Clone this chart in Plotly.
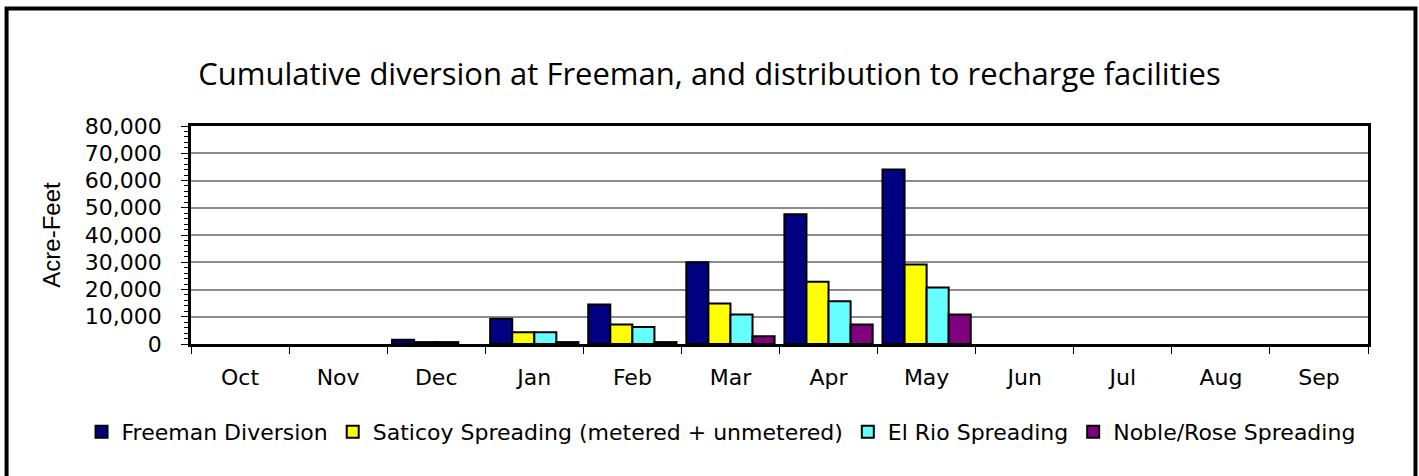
import plotly.graph_objects as go

# Water-year months
months = ["Oct", "Nov", "Dec", "Jan", "Feb", "Mar", "Apr", "May", "Jun", "Jul", "Aug", "Sep"]

# Cumulative volumes (acre-feet); months with nothing to show are None
freeman_diversion = [None, None, 1600, 9300, 14500, 30000, 47600, 64000, None, None, None, None]
saticoy_spreading = [None, None, 700, 4300, 7200, 14900, 22800, 29200, None, None, None, None]
el_rio_spreading = [None, None, 700, 4300, 6200, 10800, 15700, 20700, None, None, None, None]
noble_rose_spreading = [None, None, None, 700, 700, 2800, 7200, 10800, None, None, None, None]

series_names = [
    "Freeman Diversion",
    "Saticoy Spreading (metered + unmetered)",
    "El Rio Spreading",
    "Noble/Rose Spreading",
]
series_values = [freeman_diversion, saticoy_spreading, el_rio_spreading, noble_rose_spreading]
series_colors = ["#000080", "#FFFF00", "#66FFFF", "#800080"]

y_tick_values = [0, 10000, 20000, 30000, 40000, 50000, 60000, 70000, 80000]
y_tick_labels = ["0", "10,000", "20,000", "30,000", "40,000", "50,000", "60,000", "70,000", "80,000"]

W, H = 1419, 476
ML, MR, MT, MB = 190.5, 51, 126, 132
PW, PH = W - ML - MR, H - MT - MB

fig = go.Figure()
for name, vals, color in zip(series_names, series_values, series_colors):
    fig.add_trace(go.Bar(
        x=months, y=vals, name=name,
        marker=dict(color=color, line=dict(color="black", width=2)),
    ))

axis_font = dict(family="DejaVu Sans, Arial, sans-serif", size=22, color="black")


def px_to_paper_x(px):
    return (px - ML) / PW


def px_to_paper_y(py):
    return (H - MB - py) / PH


fig.update_layout(
    width=W, height=H,
    margin=dict(l=ML, r=MR, t=MT, b=MB, pad=0, autoexpand=False),
    paper_bgcolor="white", plot_bgcolor="white",
    barmode="group", bargap=0.1, bargroupgap=0.0,
    title=dict(
        text="Cumulative diversion at Freeman, and distribution to recharge facilities",
        font=dict(family="Open Sans, sans-serif", size=31, color="black"),
        x=0.5, xanchor="center", xref="container",
        y=1 - 74 / H, yanchor="middle", yref="container",
    ),
    xaxis=dict(
        type="category", categoryorder="array", categoryarray=months,
        showline=True, linecolor="black", linewidth=2.5, mirror=True,
        ticks="outside", tickson="boundaries", ticklen=7, tickcolor="black", tickwidth=1,
        tickfont=axis_font, ticklabelstandoff=12, showgrid=False,
    ),
    yaxis=dict(
        range=[0, 80000], tickvals=y_tick_values, ticktext=y_tick_labels,
        showline=True, linecolor="black", linewidth=2.5, mirror=True,
        ticks="outside", ticklen=7, tickcolor="black", tickwidth=1,
        tickfont=axis_font, ticklabelstandoff=15,
        showgrid=True, gridcolor="#8c8c8c", gridwidth=1.5,
        minor=dict(dtick=2000, ticks="outside", ticklen=4, tickcolor="black", tickwidth=1, showgrid=False),
        title=dict(text="Acre-Feet", font=dict(family="Liberation Sans, Arial, sans-serif", size=24, color="black"), standoff=18),
        zeroline=False,
    ),
    legend=dict(
        orientation="h", x=px_to_paper_x(81), xanchor="left",
        y=px_to_paper_y(432), yanchor="middle",
        font=dict(family="DejaVu Sans, Arial, sans-serif", size=22, color="black"),
        itemwidth=30, bgcolor="rgba(0,0,0,0)",
    ),
    showlegend=True,
)

# Outer chart border
fig.add_shape(
    type="rect", xref="paper", yref="paper",
    x0=px_to_paper_x(6), x1=px_to_paper_x(1415.5),
    y0=px_to_paper_y(490), y1=px_to_paper_y(8.5),
    line=dict(color="black", width=4), fillcolor="rgba(0,0,0,0)", layer="above",
)

fig.write_html("out.html")
